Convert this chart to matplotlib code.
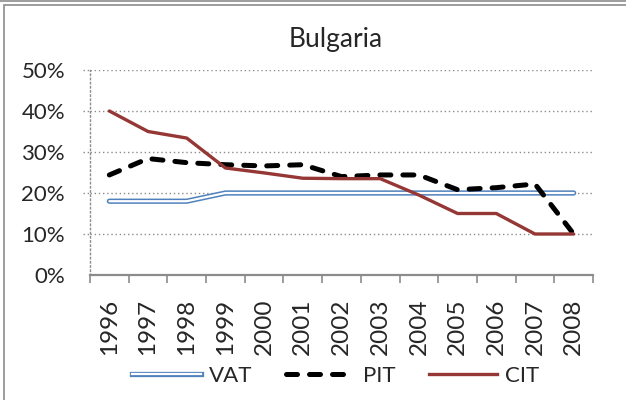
import numpy as np
import matplotlib
matplotlib.use("Agg")
from matplotlib import pyplot as plt
from matplotlib.patches import Rectangle
from matplotlib.lines import Line2D

plt.rcParams['font.family'] = ['Lato', 'DejaVu Sans']

## Data ##
years = ['1996', '1997', '1998', '1999', '2000', '2001', '2002',
         '2003', '2004', '2005', '2006', '2007', '2008']
vat = [0.18, 0.18, 0.18, 0.20, 0.20, 0.20, 0.20,
       0.20, 0.20, 0.20, 0.20, 0.20, 0.20]
pit = [0.244, 0.284, 0.274, 0.269, 0.266, 0.269, 0.240,
       0.244, 0.244, 0.208, 0.213, 0.222, 0.10]
cit = [0.40, 0.35, 0.334, 0.261, 0.249, 0.236, 0.235,
       0.235, 0.195, 0.15, 0.15, 0.10, 0.10]
yticks = [0, 0.1, 0.2, 0.3, 0.4, 0.5]

blue = '#4F81BD'
red = '#953735'
grey = '#8C8C8C'

## Plotting ##
fig = plt.figure(figsize=(6.26, 4.0), dpi=100)
ax = fig.add_axes([90 / 626, 125 / 400, 503 / 626, 205 / 400])

x = np.arange(len(years))

# VAT: double line (blue outline, white core)
ax.plot(x, vat, color=blue, lw=3.8, solid_capstyle='round', zorder=3)
ax.plot(x, vat, color='white', lw=1.6, solid_capstyle='round', zorder=3.1)
# PIT: thick black dashes
ax.plot(x, pit, color='black', lw=3.6, dashes=(2.2, 2.4),
        dash_capstyle='round', zorder=4)
# CIT: dark red solid
ax.plot(x, cit, color=red, lw=2.4, solid_capstyle='round', zorder=5)

ax.set_xlim(-0.5, len(years) - 0.5)
ax.set_ylim(0, 0.5)

ax.set_yticks(yticks)
ax.set_yticklabels(['%d%%' % round(v * 100) for v in yticks], fontsize=16,
                   color='#262626')
ax.tick_params(axis='y', length=0, pad=18)

ax.set_xticks(x)
ax.set_xticklabels(years, rotation=90, fontsize=17.5, color='#262626')
ax.set_xticks(np.arange(-0.5, len(years), 1), minor=True)
ax.tick_params(axis='x', which='major', length=0, pad=17)
ax.tick_params(axis='x', which='minor', length=6, width=1.2, color=grey)

ax.grid(axis='y', color=grey, linestyle=(0, (1, 2)), lw=1.0)
for v in yticks[1:]:
    ax.plot([-0.68, -0.5], [v, v], color=grey, lw=1.0, linestyle=(0, (1, 2)),
            clip_on=False)

for s in ['top', 'right']:
    ax.spines[s].set_visible(False)
ax.spines['left'].set_color(grey)
ax.spines['left'].set_linestyle((0, (1, 2)))
ax.spines['left'].set_linewidth(1.0)
ax.spines['bottom'].set_color(grey)
ax.spines['bottom'].set_linewidth(1.6)

fig.text(336 / 626, 1 - 40 / 400, 'Bulgaria', ha='center', va='center',
         fontsize=19, color='#262626')

# legend
handles = [
    (Line2D([], [], color=blue, lw=3.8), Line2D([], [], color='white', lw=1.6)),
    Line2D([], [], color='black', lw=3.6, dashes=(2.2, 2.4), dash_capstyle='round'),
    Line2D([], [], color=red, lw=2.4),
]
leg = fig.legend(handles, ['VAT', 'PIT', 'CIT'], loc='center',
                 bbox_to_anchor=(336 / 626, 1 - 376 / 400), ncol=3,
                 frameon=False, fontsize=16, handlelength=3.1,
                 handletextpad=0.35, columnspacing=1.5, labelcolor='#262626')

# chart frame
fig.patches.append(Rectangle((4 / 626, -0.05), 1.1, 1 - 5 / 400 + 0.05,
                             transform=fig.transFigure, fill=False,
                             edgecolor='#8C8C8C', lw=1.2))
fig.add_artist(Line2D([0, 1], [1 - 1 / 400, 1 - 1 / 400], transform=fig.transFigure,
                      color='#8C8C8C', lw=1.2))

fig.savefig('out.png', dpi=100)
